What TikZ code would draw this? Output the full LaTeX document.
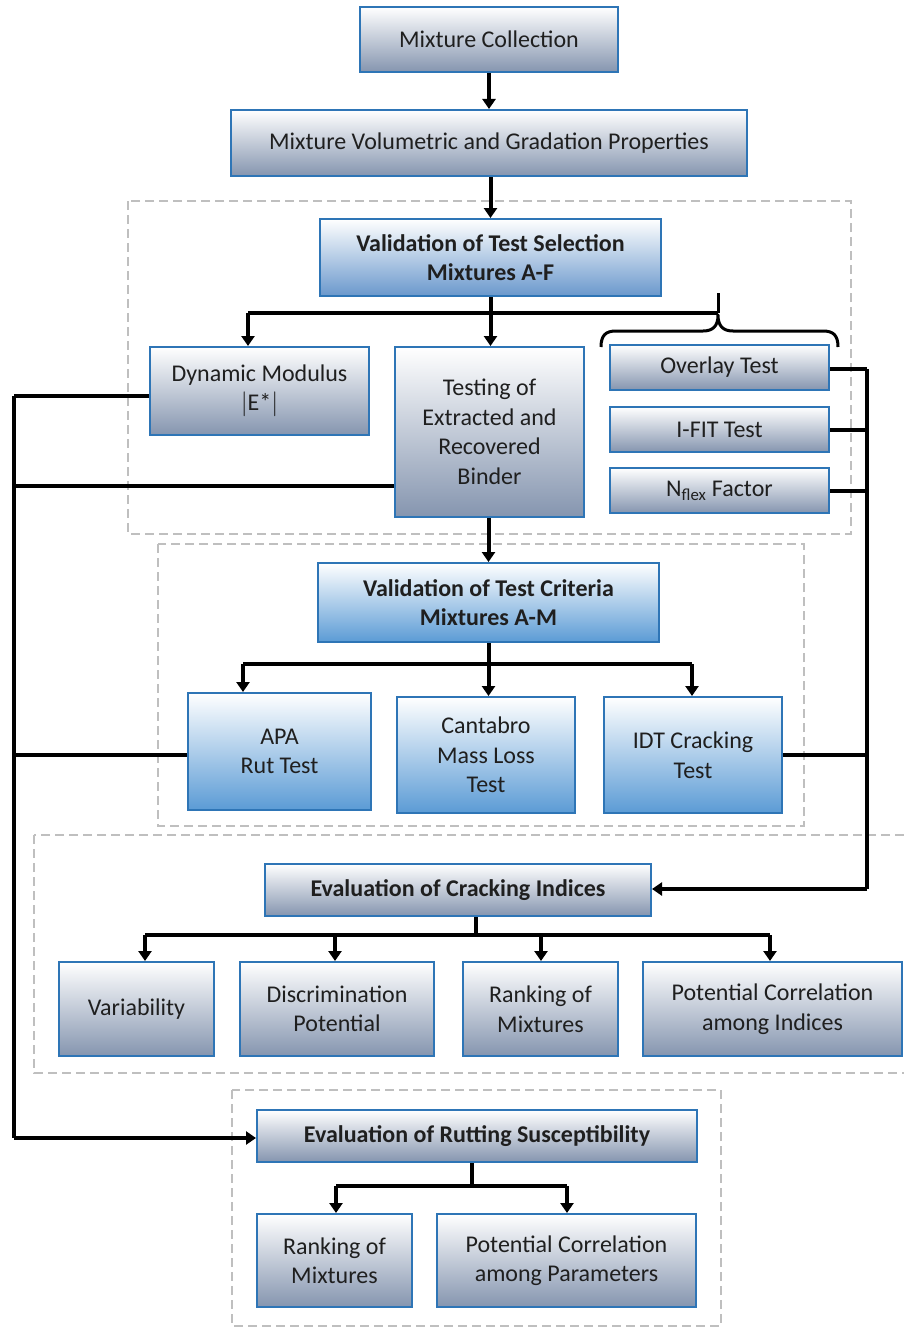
\documentclass[tikz,border=0pt]{standalone}
\usepackage{fontspec}
\setmainfont{Carlito}
\usetikzlibrary{arrows.meta}
\definecolor{bordblue}{HTML}{2E75B6}
\definecolor{graybot}{HTML}{8595AF}
\definecolor{bluebot}{HTML}{5B9BD5}
\definecolor{blueslate}{HTML}{6A98CC}
\definecolor{dashgray}{HTML}{BFBFBF}
\definecolor{txt}{HTML}{1F1F1F}
\begin{document}
\begin{tikzpicture}[x=1pt,y=-1pt,
  basebox/.style={draw=bordblue, line width=2pt, inner sep=2pt, align=center,
    text=txt, font=\fontsize{24}{29.5}\selectfont},
  graybox/.style={basebox, top color=white, bottom color=graybot},
  bluebox/.style={basebox, top color=white, bottom color=bluebot},
  slatebox/.style={basebox, top color=white, bottom color=blueslate},
  boldtext/.style={font=\fontsize{24}{29.5}\selectfont\bfseries},
  conn/.style={line width=4pt, draw=black},
  arr/.style={conn, -{Triangle[length=10pt,width=13pt]}},
  grp/.style={draw=dashgray, line width=1.6pt, dash pattern=on 9pt off 5pt}
]
\useasboundingbox (0,0) rectangle (904,1327);

% dashed groups
\draw[grp] (128,201) rectangle (851,534);
\draw[grp] (158,544) rectangle (804,826);
\draw[grp] (34,835) rectangle (910,1073);
\draw[grp] (232,1090) rectangle (721,1326);

% nodes
\node[graybox, minimum width=258pt, minimum height=65pt] (mc) at (489,39.5) {Mixture Collection};
\node[graybox, minimum width=516pt, minimum height=66pt] (mv) at (489,143) {Mixture Volumetric and Gradation Properties};
\node[slatebox, boldtext, minimum width=341pt, minimum height=77pt] (vs) at (490.5,257.5) {Validation of Test Selection\\Mixtures A-F};
\node[graybox, minimum width=219pt, minimum height=88pt] (dm) at (259.5,391) {Dynamic Modulus\\$|$E*$|$};
\node[graybox, minimum width=189pt, minimum height=170pt] (tb) at (489.5,432) {Testing of\\Extracted and\\Recovered\\Binder};
\node[graybox, minimum width=219pt, minimum height=45pt] (ov) at (719.5,367.5) {Overlay Test};
\node[graybox, minimum width=219pt, minimum height=45pt] (ifit) at (719.5,429.5) {I-FIT Test};
\node[graybox, minimum width=219pt, minimum height=45pt] (nf) at (719.5,490.5) {N\textsubscript{flex} Factor};
\node[bluebox, boldtext, minimum width=341pt, minimum height=79pt] (vc) at (488.5,602.5) {Validation of Test Criteria\\Mixtures A-M};
\node[bluebox, minimum width=183pt, minimum height=117pt] (apa) at (279.5,751.5) {APA\\Rut Test};
\node[bluebox, minimum width=178pt, minimum height=116pt] (can) at (486,755) {Cantabro\\Mass Loss\\Test};
\node[bluebox, minimum width=178pt, minimum height=116pt] (idt) at (693,755) {IDT Cracking\\Test};
\node[graybox, boldtext, minimum width=386pt, minimum height=52pt] (ec) at (458,890) {Evaluation of Cracking Indices};
\node[graybox, minimum width=155pt, minimum height=94pt] (var) at (136.5,1009) {Variability};
\node[graybox, minimum width=194pt, minimum height=94pt] (dis) at (337,1009) {Discrimination\\Potential};
\node[graybox, minimum width=155pt, minimum height=94pt] (rk) at (540.5,1009) {Ranking of\\Mixtures};
\node[graybox, minimum width=259pt, minimum height=94pt] (pc) at (772.5,1009) {Potential Correlation\\among Indices};
\node[graybox, boldtext, minimum width=440pt, minimum height=52pt] (er) at (477,1136) {Evaluation of Rutting Susceptibility};
\node[graybox, minimum width=155pt, minimum height=93pt] (rk2) at (334.5,1260.5) {Ranking of\\Mixtures};
\node[graybox, minimum width=259pt, minimum height=93pt] (pp) at (566.5,1260.5) {Potential Correlation\\among Parameters};

% junction coordinates
\coordinate (j1l) at (248,313);
\coordinate (btip) at (718,313);
\coordinate (j2l) at (243,664);
\coordinate (j2r) at (692,664);
\coordinate (j3) at (476,935);
\coordinate (j3a) at (145,935);
\coordinate (j3b) at (335,935);
\coordinate (j3c) at (541,935);
\coordinate (j3d) at (770,935);
\coordinate (j4) at (472,1186);
\coordinate (j4a) at (336,1186);
\coordinate (j4b) at (567,1186);
\coordinate (l1) at (14,396);
\coordinate (l2) at (14,486);
\coordinate (l3) at (14,755);
\coordinate (l4) at (14,1138);
\coordinate (r1) at (867,369);
\coordinate (r2) at (867,430);
\coordinate (r3) at (867,491);
\coordinate (r4) at (867,755);
\coordinate (r5) at (867,889);

% main flow
\draw[arr] (mc.south) -- (mv.north);
\draw[arr] (mv.south -| vs.north) -- (vs.north);
\draw[arr] (vs.south) -- (vs.south |- tb.north);
\draw[conn] (j1l) -- (btip);
\draw[arr] (j1l) -- (j1l |- dm.north);
\draw[arr] (tb.south -| vc.north) -- (vc.north);
\draw[conn] (j2l) -- (j2r);
\draw[arr] (vc.south) -- (vc.south |- can.north);
\draw[arr] (j2l) -- (j2l |- apa.north);
\draw[arr] (j2r) -- (j2r |- idt.north);

% brace
\draw[line width=3pt, line join=round] (601,347) .. controls (601,335) and (606,331) .. (616,331)
  -- (703,331) .. controls (713,331) and (718,326) .. (718,315)
  .. controls (718,326) and (723,331) .. (733,331)
  -- (823,331) .. controls (833,331) and (838,335) .. (838,347);
\draw[line width=3pt] (718,293) -- (btip);

% left bus
\draw[conn] (l1 -| dm.west) -- (l1);
\draw[conn] (l2 -| tb.west) -- (l2);
\draw[conn] (l3 -| apa.west) -- (l3);
\draw[conn] (l1) -- (l4);
\draw[arr] (l4) -- (l4 -| er.west);

% right bus
\draw[conn] (r1 -| ov.east) -- (r1);
\draw[conn] (r2 -| ifit.east) -- (r2);
\draw[conn] (r3 -| nf.east) -- (r3);
\draw[conn] (r4 -| idt.east) -- (r4);
\draw[conn] (r1) -- (r5);
\draw[arr] (r5) -- (r5 -| ec.east);

% cracking evaluation
\draw[conn] (ec.south -| j3) -- (j3);
\draw[conn] (j3a) -- (j3d);
\draw[arr] (j3a) -- (j3a |- var.north);
\draw[arr] (j3b) -- (j3b |- dis.north);
\draw[arr] (j3c) -- (j3c |- rk.north);
\draw[arr] (j3d) -- (j3d |- pc.north);

% rutting evaluation
\draw[conn] (er.south -| j4) -- (j4);
\draw[conn] (j4a) -- (j4b);
\draw[arr] (j4a) -- (j4a |- rk2.north);
\draw[arr] (j4b) -- (j4b |- pp.north);
\end{tikzpicture}
\end{document}
